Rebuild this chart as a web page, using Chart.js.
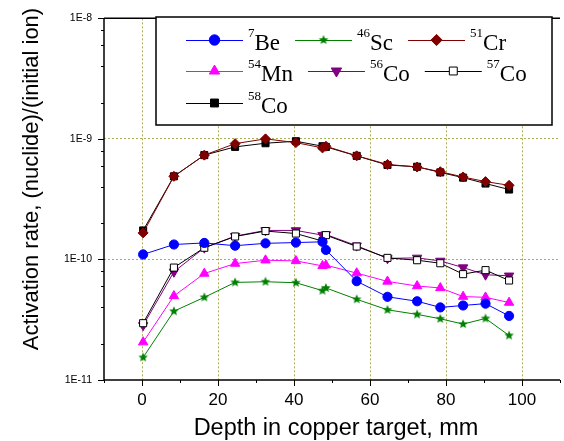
<!DOCTYPE html>
<html lang="en">
<head>
<meta charset="UTF-8">
<title>Activation rate vs depth in copper target</title>
<script src="https://cdn.jsdelivr.net/npm/chart.js"></script>
<style>
  html, body { margin: 0; padding: 0; background: #fff; overflow: hidden; }
</style>
</head>
<body>
<canvas id="chart" width="570" height="441"></canvas>
<script>
// depth of each sample, mm
const depth = [0.3, 8.4, 16.4, 24.5, 32.5, 40.5, 47.5, 48.4, 56.5, 64.6, 72.4, 78.5, 84.5, 90.4, 96.6];

// activation rate, nuclide per initial ion
const be7  = [1.10e-10, 1.33e-10, 1.37e-10, 1.30e-10, 1.36e-10, 1.38e-10, 1.40e-10, 1.20e-10, 6.6e-11, 4.9e-11, 4.5e-11, 4.0e-11, 4.15e-11, 4.3e-11, 3.4e-11];
const sc46 = [1.54e-11, 3.72e-11, 4.85e-11, 6.45e-11, 6.53e-11, 6.41e-11, 5.51e-11, 5.80e-11, 4.67e-11, 3.82e-11, 3.50e-11, 3.22e-11, 2.91e-11, 3.24e-11, 2.34e-11];
const cr51 = [1.66e-10, 4.89e-10, 7.33e-10, 9.13e-10, 1.00e-9, 9.31e-10, 8.41e-10, 8.69e-10, 7.23e-10, 6.14e-10, 5.84e-10, 5.34e-10, 4.83e-10, 4.42e-10, 4.12e-10];
const mn54 = [2.06e-11, 4.98e-11, 7.64e-11, 9.24e-11, 9.85e-11, 9.72e-11, 8.84e-11, 8.96e-11, 7.70e-11, 6.57e-11, 6.02e-11, 5.80e-11, 4.92e-11, 4.85e-11, 4.39e-11];
const co56 = [2.84e-11, 7.89e-11, 1.25e-10, 1.56e-10, 1.74e-10, 1.74e-10, 1.59e-10, 1.61e-10, 1.30e-10, 1.02e-10, 1.03e-10, 9.72e-11, 8.56e-11, 7.46e-11, 7.32e-11];
const co57 = [2.96e-11, 8.56e-11, 1.25e-10, 1.55e-10, 1.72e-10, 1.64e-10, 1.42e-10, 1.59e-10, 1.28e-10, 1.03e-10, 9.85e-11, 9.30e-11, 7.55e-11, 8.15e-11, 6.69e-11];
const co58 = [1.74e-10, 4.89e-10, 7.33e-10, 8.58e-10, 9.20e-10, 9.56e-10, 8.69e-10, 8.58e-10, 7.23e-10, 6.07e-10, 5.87e-10, 5.27e-10, 4.77e-10, 4.26e-10, 3.80e-10];

const massNumbers = ['7', '46', '51', '54', '56', '57', '58'];
const elements = ['Be', 'Sc', 'Cr', 'Mn', 'Co', 'Co', 'Co'];
const series = [be7, sc46, cr51, mn54, co56, co57, co58];

const xTickValues = [-10, 0, 10, 20, 30, 40, 50, 60, 70, 80, 90, 100, 110];
const xLabelValues = [0, 20, 40, 60, 80, 100];
const yDecades = [-11, -10, -9, -8];
const yMinorSteps = [2, 4, 6, 8];

const FONT = '"Liberation Sans", Arial, sans-serif';
const SERIF = '"Liberation Serif", "Times New Roman", serif';
const GRID = 'rgba(165,165,70,0.9)';

// filled five point star, not available as a built in point style
function makeStar(r, color) {
    const c = document.createElement('canvas');
    c.width = c.height = 2 * r + 2;
    const g = c.getContext('2d');
    g.fillStyle = color;
    g.beginPath();
    for (let i = 0; i < 10; i++) {
        const a = -Math.PI / 2 + i * Math.PI / 5;
        const rr = i % 2 ? r * 0.45 : r;
        g.lineTo(r + 1 + rr * Math.cos(a), r + 1 + rr * Math.sin(a));
    }
    g.closePath();
    g.fill();
    return c;
}

const styles = [
    {color: '#0000ff', fill: '#0000ff', pointStyle: 'circle', radius: 4.6, rotation: 0, order: 1},
    {color: '#008000', fill: '#008000', pointStyle: makeStar(5, '#008000'), radius: 5, rotation: 0, order: 2},
    {color: '#800000', fill: '#800000', pointStyle: 'rectRot', radius: 5, rotation: 0, order: 6},
    {color: '#ff00ff', fill: '#ff00ff', pointStyle: 'triangle', radius: 5.4, rotation: 0, order: 3},
    {color: '#800080', fill: '#800080', pointStyle: 'triangle', radius: 5.4, rotation: 180, order: 5},
    {color: '#000000', fill: '#ffffff', pointStyle: 'rect', radius: 5, rotation: 0, order: 4},
    {color: '#000000', fill: '#000000', pointStyle: 'rect', radius: 5, rotation: 0, order: 7}
];

const datasets = series.map((vals, i) => ({
    label: massNumbers[i] + elements[i],
    data: vals.map((v, j) => ({x: depth[j], y: v})),
    borderColor: styles[i].color,
    borderWidth: 1,
    backgroundColor: styles[i].fill,
    pointBackgroundColor: styles[i].fill,
    pointBorderColor: styles[i].color,
    pointBorderWidth: 1,
    pointStyle: styles[i].pointStyle,
    pointRadius: styles[i].radius,
    pointRotation: styles[i].rotation,
    order: styles[i].order,
    tension: 0
}));

function isDecade(v) {
    const e = Math.round(Math.log10(v));
    return Math.abs(v / Math.pow(10, e) - 1) < 1e-6;
}

const decor = {
    id: 'decor',
    afterDraw(chart) {
        const {ctx, chartArea: a, scales: {x, y}} = chart;
        ctx.save();
        ctx.setLineDash([]);
        ctx.strokeStyle = '#000';
        ctx.lineWidth = 1;
        ctx.beginPath();
        xTickValues.forEach(v => {
            const px = Math.round(x.getPixelForValue(v)) + 0.5;
            const len = v % 20 === 0 ? 6 : 3;
            ctx.moveTo(px, a.bottom);
            ctx.lineTo(px, a.bottom + len);
        });
        y.ticks.forEach(t => {
            const py = Math.round(y.getPixelForValue(t.value)) + 0.5;
            const len = isDecade(t.value) ? 6 : 3;
            ctx.moveTo(a.left, py);
            ctx.lineTo(a.left - len, py);
        });
        ctx.stroke();

        // axis lines and top frame
        ctx.lineWidth = 1.5;
        ctx.beginPath();
        ctx.moveTo(a.left, a.top);
        ctx.lineTo(a.right, a.top);
        ctx.moveTo(a.left, a.top);
        ctx.lineTo(a.left, a.bottom);
        ctx.lineTo(a.right, a.bottom);
        ctx.stroke();

        // axis titles
        ctx.fillStyle = '#000';
        ctx.textAlign = 'center';
        ctx.textBaseline = 'alphabetic';
        ctx.font = '23.5px ' + FONT;
        ctx.fillText('Depth in copper target, mm', 336, 435);
        ctx.save();
        ctx.translate(38, 179);
        ctx.rotate(-Math.PI / 2);
        ctx.font = '22px ' + FONT;
        ctx.fillText('Activation rate, (nuclide)/(initial ion)', 0, 0);
        ctx.restore();

        // legend box
        const box = {left: 156, top: 17, right: 552, bottom: 125};
        ctx.fillStyle = '#fff';
        ctx.fillRect(box.left, box.top, box.right - box.left, box.bottom - box.top);
        ctx.lineWidth = 1.5;
        ctx.strokeRect(box.left, box.top, box.right - box.left, box.bottom - box.top);

        const rows = [40, 71, 103];
        const lineLen = 57, textGap = 5, itemGap = 15, startX = 186, maxRight = 545;
        let row = 0, cx = startX;
        datasets.forEach((ds, i) => {
            ctx.font = '13px ' + SERIF;
            const supW = ctx.measureText(massNumbers[i]).width;
            ctx.font = '23px ' + SERIF;
            const mainW = ctx.measureText(elements[i]).width;
            const itemW = lineLen + textGap + supW + mainW;
            if (cx + itemW > maxRight) { row++; cx = startX; }
            const ry = rows[row];
            ctx.strokeStyle = ds.borderColor;
            ctx.lineWidth = 1;
            ctx.beginPath();
            ctx.moveTo(cx, ry + 0.5);
            ctx.lineTo(cx + lineLen, ry + 0.5);
            ctx.stroke();
            ctx.fillStyle = ds.pointBackgroundColor;
            ctx.strokeStyle = ds.pointBorderColor;
            Chart.helpers.drawPoint(ctx, {
                pointStyle: ds.pointStyle, radius: ds.pointRadius + 0.6,
                rotation: ds.pointRotation, borderWidth: 1
            }, cx + lineLen / 2, ry);
            ctx.fillStyle = '#000';
            ctx.textAlign = 'left';
            ctx.font = '13px ' + SERIF;
            ctx.fillText(massNumbers[i], cx + lineLen + textGap, ry - 3);
            ctx.font = '23px ' + SERIF;
            ctx.fillText(elements[i], cx + lineLen + textGap + supW, ry + 10);
            cx += itemW + itemGap;
        });
        ctx.restore();
    }
};

new Chart(document.getElementById('chart'), {
    type: 'line',
    data: {datasets},
    plugins: [decor],
    options: {
        responsive: false,
        animation: false,
        devicePixelRatio: 1,
        layout: {padding: {left: 0, right: 3, top: 15, bottom: 0}},
        plugins: {legend: {display: false}, tooltip: {enabled: false}},
        scales: {
            x: {
                type: 'linear',
                min: -10,
                max: 110,
                afterFit: s => { s.height = 61; },
                afterBuildTicks: s => { s.ticks = xTickValues.map(v => ({value: v})); },
                ticks: {
                    autoSkip: false,
                    maxRotation: 0,
                    padding: 10,
                    color: '#000',
                    font: {family: FONT, size: 17},
                    callback: v => xLabelValues.includes(v) ? String(v) : ''
                },
                grid: {
                    drawTicks: false,
                    color: c => (c.tick && xLabelValues.includes(c.tick.value)) ? GRID : 'rgba(0,0,0,0)',
                    lineWidth: 1
                },
                border: {display: false, dash: [2, 2]}
            },
            y: {
                type: 'logarithmic',
                min: 1e-11,
                max: 1e-8,
                afterFit: s => { s.width = 104; },
                afterBuildTicks: s => {
                    const t = [];
                    yDecades.forEach(e => {
                        t.push({value: Math.pow(10, e)});
                        if (e < -8) yMinorSteps.forEach(m => t.push({value: m * Math.pow(10, e)}));
                    });
                    s.ticks = t;
                },
                ticks: {
                    autoSkip: false,
                    padding: 12,
                    color: '#000',
                    font: {family: FONT, size: 10.5},
                    callback: v => isDecade(v) ? '1E' + Math.round(Math.log10(v)) : ''
                },
                grid: {
                    drawTicks: false,
                    color: c => {
                        const v = c.tick && c.tick.value;
                        return (v && isDecade(v) && v > 1.5e-11 && v < 5e-9) ? GRID : 'rgba(0,0,0,0)';
                    },
                    lineWidth: 1
                },
                border: {display: false, dash: [2, 2]}
            }
        }
    }
});
</script>
</body>
</html>
